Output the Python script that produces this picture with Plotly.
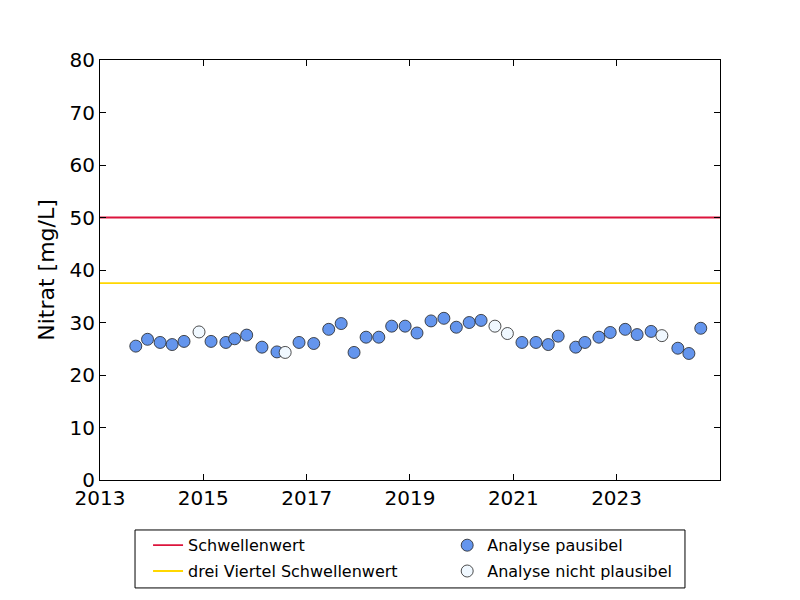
import plotly.graph_objects as go

# Data
dates_ok = ["2013-09-11", "2013-12-03", "2014-03-02", "2014-05-26", "2014-08-18",
            "2015-02-25", "2015-06-10", "2015-08-11", "2015-11-04", "2016-02-20",
            "2016-06-05", "2016-11-08", "2017-02-20", "2017-06-06", "2017-09-02",
            "2017-12-02", "2018-02-25", "2018-05-26", "2018-08-25", "2018-11-28",
            "2019-02-20", "2019-05-30", "2019-08-29", "2019-11-25", "2020-02-24",
            "2020-05-18", "2021-03-03", "2021-06-10", "2021-09-05", "2021-11-14",
            "2022-03-18", "2022-05-22", "2022-08-29", "2022-11-17", "2023-03-03",
            "2023-05-26", "2023-09-02", "2024-03-09", "2024-05-26", "2024-08-18"]
values_ok = [25.5, 26.8, 26.2, 25.8, 26.4,
             26.4, 26.2, 26.9, 27.6, 25.3,
             24.4, 26.2, 26.0, 28.7, 29.8,
             24.3, 27.2, 27.2, 29.3, 29.3,
             28.0, 30.3, 30.8, 29.1, 30.0,
             30.4, 26.2, 26.2, 25.8, 27.4,
             25.3, 26.2, 27.2, 28.1, 28.7,
             27.7, 28.3, 25.1, 24.1, 28.9]

dates_bad = ["2014-12-02", "2016-08-02", "2020-08-24", "2020-11-20", "2023-11-17"]
values_bad = [28.2, 24.3, 29.3, 27.9, 27.5]

threshold = 50
three_quarter = 37.5
x_range = ["2013-01-01", "2025-01-01"]
year_ticks = ["2013-01-01", "2015-01-01", "2017-01-01", "2019-01-01", "2021-01-01", "2023-01-01"]
year_labels = ["2013", "2015", "2017", "2019", "2021", "2023"]

fig = go.Figure()

fig.add_trace(go.Scatter(x=x_range, y=[threshold, threshold], mode="lines",
                         line=dict(color="#DC143C", width=1.8), name="Schwellenwert",
                         legend="legend", legendgroup="a"))
fig.add_trace(go.Scatter(x=x_range, y=[three_quarter, three_quarter], mode="lines",
                         line=dict(color="#FFD700", width=1.8), name="drei Viertel Schwellenwert",
                         legend="legend", legendgroup="b"))
fig.add_trace(go.Scatter(x=dates_ok, y=values_ok, mode="markers",
                         marker=dict(size=12, color="#6495ED",
                                     line=dict(color="#222222", width=0.8)),
                         name="Analyse pausibel", legend="legend2", legendgroup="c"))
fig.add_trace(go.Scatter(x=dates_bad, y=values_bad, mode="markers",
                         marker=dict(size=12, color="#F0F8FF",
                                     line=dict(color="#222222", width=0.8)),
                         name="Analyse nicht plausibel", legend="legend2", legendgroup="d"))

legend_common = dict(orientation="v", yanchor="top", xanchor="left", y=-0.115,
                     bgcolor="rgba(0,0,0,0)", borderwidth=0,
                     font=dict(size=16, family="DejaVu Sans", color="black"),
                     tracegroupgap=2)

fig.update_layout(
    width=800, height=600,
    margin=dict(l=92, r=88, t=52, b=128, autoexpand=False),
    paper_bgcolor="white", plot_bgcolor="white",
    font=dict(family="DejaVu Sans", color="black"),
    showlegend=True,
    legend=dict(x=0.0775, **legend_common),
    legend2=dict(x=0.560, **legend_common),
    shapes=[dict(type="rect", xref="paper", yref="paper",
                 x0=0.0565, x1=0.9435, y0=-0.119, y1=-0.257,
                 line=dict(color="black", width=1), fillcolor="rgba(0,0,0,0)")],
)

fig.update_xaxes(range=x_range, tickvals=year_ticks, ticktext=year_labels,
                 showgrid=False, zeroline=False, showline=True, linecolor="black",
                 linewidth=1, mirror="allticks", ticks="inside", ticklen=6,
                 tickcolor="black", tickfont=dict(size=20), automargin=False)
fig.update_yaxes(range=[0, 80], tickvals=[0, 10, 20, 30, 40, 50, 60, 70, 80],
                 showgrid=False, zeroline=False, showline=True, linecolor="black",
                 linewidth=1, mirror="allticks", ticks="inside", ticklen=6,
                 tickcolor="black", tickfont=dict(size=20), automargin=False,
                 title=dict(text="Nitrat [mg/L]", font=dict(size=22), standoff=8))

fig.write_html("out.html")
